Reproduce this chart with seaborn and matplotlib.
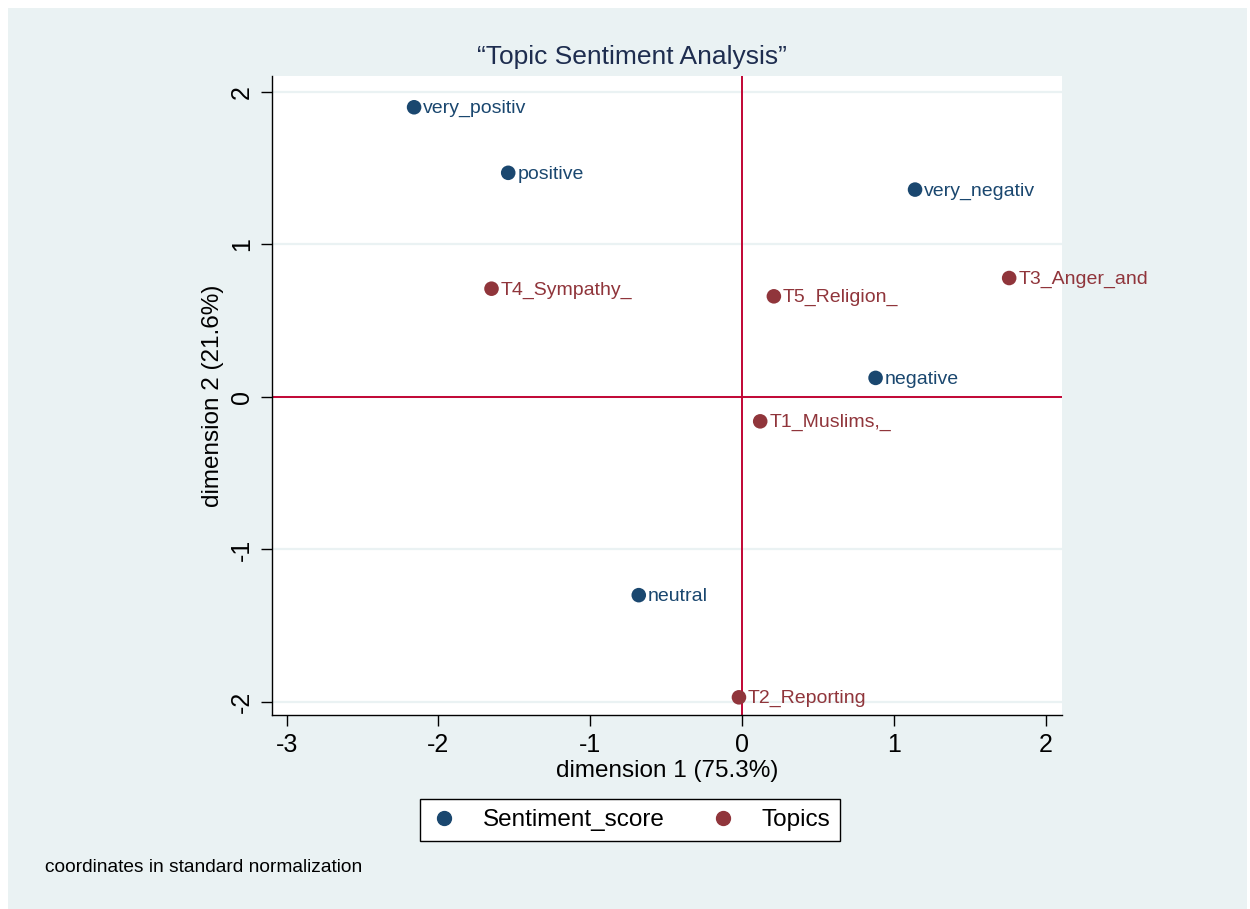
import matplotlib.pyplot as plt
import seaborn as sns
import pandas as pd
from matplotlib.patches import Rectangle

# coordenadas
labels = ["very_positiv", "positive", "very_negativ", "negative", "neutral",
          "T4_Sympathy_", "T5_Religion_", "T3_Anger_and", "T1_Muslims,_", "T2_Reporting"]
dim1 = [-2.16, -1.54, 1.14, 0.88, -0.68,
        -1.65, 0.21, 1.76, 0.12, -0.02]
dim2 = [1.90, 1.47, 1.36, 0.125, -1.30,
        0.71, 0.66, 0.78, -0.16, -1.97]
grupo = ["Sentiment_score"] * 5 + ["Topics"] * 5

azul = "#1a476f"
bordo = "#90353b"
fondo = "#eaf2f3"
rojo = "#c10534"

df = pd.DataFrame({"dim1": dim1, "dim2": dim2, "grupo": grupo, "label": labels})

sns.set_style("white")
plt.rcParams['font.family'] = ['Liberation Sans', 'DejaVu Sans']
plt.rcParams['axes.unicode_minus'] = False
plt.rcParams['text.color'] = "black"
plt.rcParams['axes.labelcolor'] = "black"
plt.rcParams['xtick.color'] = "black"
plt.rcParams['ytick.color'] = "black"

fig = plt.figure(figsize=(12.5, 9.09), dpi=100)
fig.patch.set_facecolor("white")
fig.patches.append(Rectangle((8 / 1250, 0), 1239 / 1250, 901 / 909,
                             transform=fig.transFigure, facecolor=fondo,
                             edgecolor="none", zorder=-10))

ax = fig.add_axes([272 / 1250, 1 - 715 / 909, 790 / 1250, 639 / 909])
ax.set_facecolor("white")

for y in [-2, -1, 0, 1, 2]:
    ax.axhline(y, color=fondo, lw=1.6, zorder=0)
ax.axhline(0, color=rojo, lw=1.4, zorder=1)
ax.axvline(0, color=rojo, lw=1.4, zorder=1)

sns.scatterplot(data=df, x="dim1", y="dim2", hue="grupo",
                palette={"Sentiment_score": azul, "Topics": bordo},
                s=110, edgecolor="none", legend=False, ax=ax, zorder=3)

for _, r in df.iterrows():
    c = azul if r["grupo"] == "Sentiment_score" else bordo
    ax.annotate(r["label"], (r["dim1"], r["dim2"]), xytext=(6.5, -1),
                textcoords="offset points", ha="left", va="center",
                fontsize=14, color=c, zorder=4)

ax.set_xlim(-3.096, 2.108)
ax.set_ylim(-2.086, 2.105)
ax.set_xticks([-3, -2, -1, 0, 1, 2])
ax.set_yticks([-2, -1, 0, 1, 2])
ax.tick_params(axis="both", direction="out", length=8, width=1, color="black",
               labelsize=18, pad=5, left=True, bottom=True)
plt.setp(ax.get_yticklabels(), rotation=90, va="center")
for s in ["top", "right"]:
    ax.spines[s].set_visible(False)
for s in ["left", "bottom"]:
    ax.spines[s].set_color("black")
    ax.spines[s].set_linewidth(1)

ax.set_xlabel("dimension 1 (75.3%)", fontsize=17.5, labelpad=2)
ax.set_ylabel("dimension 2 (21.6%)", fontsize=17.5, labelpad=4)
fig.text(632 / 1250, 1 - 57 / 909, "\u201cTopic Sentiment Analysis\u201d",
         fontsize=19, color="#1e2d4f", ha="center", va="center")

h1 = plt.Line2D([], [], ls="none", marker="o", ms=10, color=azul)
h2 = plt.Line2D([], [], ls="none", marker="o", ms=10, color=bordo)
leg = fig.legend([h1, h2], ["Sentiment_score", "Topics"], ncol=2,
                 loc="center", bbox_to_anchor=(630 / 1250, 1 - 820 / 909),
                 fontsize=17.5, frameon=True, fancybox=False, edgecolor="black",
                 facecolor="white", framealpha=1,
                 handletextpad=1.0, columnspacing=1.8, borderpad=0.4,
                 handlelength=1.2)
leg.get_frame().set_linewidth(1)

fig.text(45 / 1250, 1 - 867 / 909, "coordinates in standard normalization",
         fontsize=13.75, ha="left", va="center")

plt.savefig("out.png", dpi=100, facecolor=fig.get_facecolor())
